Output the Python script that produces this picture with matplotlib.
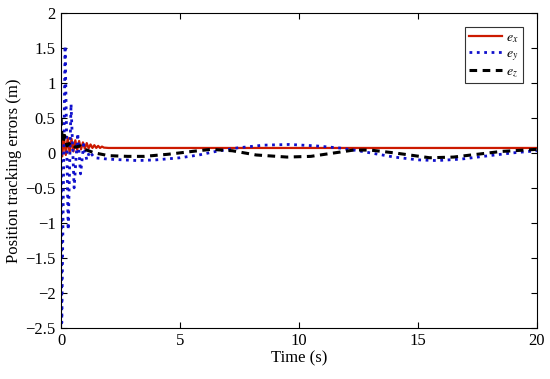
import matplotlib
matplotlib.use("Agg")
import matplotlib.pyplot as plt

plt.rcParams['font.family'] = ['Liberation Serif', 'DejaVu Serif']
plt.rcParams['mathtext.fontset'] = 'stix'

# error e_x (red)
t_x = [0, 0.05, 0.12, 0.2, 0.28, 0.36, 0.44, 0.52, 0.6, 0.68, 0.76, 0.84, 0.92,
       1.0, 1.08, 1.16, 1.24, 1.32, 1.4, 1.48, 1.56, 1.64, 1.72, 1.8, 2.0, 20]
e_x = [0.3, -0.05, 0.25, -0.03, 0.22, 0.0, 0.2, 0.02, 0.18, 0.04, 0.17, 0.05, 0.15,
       0.06, 0.14, 0.065, 0.12, 0.07, 0.11, 0.07, 0.1, 0.07, 0.09, 0.075, 0.07, 0.07]

# error e_y (blue dotted)
t_y = [0, 0.03, 0.17, 0.30, 0.42, 0.55, 0.70, 0.82, 0.95, 1.08, 1.2, 1.4, 2.0, 2.6,
       3.2, 4.0, 5.0, 5.8, 6.5, 7.4, 8.5, 9.6, 10.7, 11.7, 12.5, 13.0, 14.0, 15.0,
       15.8, 16.8, 18.0, 19.0, 20.0]
e_y = [0.0, -2.43, 1.53, -1.1, 0.7, -0.5, 0.28, -0.3, 0.12, -0.1, 0.02, -0.07, -0.09, -0.1,
       -0.11, -0.1, -0.07, -0.03, 0.02, 0.07, 0.11, 0.12, 0.1, 0.07, 0.03, 0.0, -0.06, -0.1,
       -0.11, -0.09, -0.04, 0.0, 0.03]

# error e_z (black dashed)
t_z = [0, 0.03, 0.08, 0.15, 0.25, 0.4, 0.6, 0.8, 1.0, 1.4, 2.0, 2.8, 3.5, 4.5, 5.5, 6.3,
       7.2, 8.2, 9.5, 10.5, 11.5, 12.3, 13.0, 14.0, 15.5, 16.5, 17.5, 18.5, 20]
e_z = [0.5, 0.3, 0.15, 0.25, 0.1, 0.15, 0.08, 0.1, 0.05, 0.0, -0.04, -0.05, -0.05, -0.02, 0.02, 0.05,
       0.03, -0.03, -0.06, -0.05, 0.0, 0.04, 0.04, 0.0, -0.07, -0.06, -0.02, 0.02, 0.05]

fig = plt.figure(figsize=(5.5, 3.79), dpi=100)
ax = fig.add_axes([0.111, 0.135, 0.865, 0.831])

ax.plot(t_x, e_x, color='#cc1a00', lw=1.6, label='$e_x$')
ax.plot(t_y, e_y, color='#1010cc', lw=2.0, ls=':', label='$e_y$')
ax.plot(t_z, e_z, color='black', lw=2.2, ls=(0, (2.5, 1.8)), label='$e_z$')

ax.set_xlim(0, 20)
ax.set_ylim(-2.5, 2)
ax.set_xticks([0, 5, 10, 15, 20])
ax.set_yticks([-2.5, -2, -1.5, -1, -0.5, 0, 0.5, 1, 1.5, 2])
ax.set_yticklabels(['\u22122.5', '\u22122', '\u22121.5', '\u22121', '\u22120.5', '0', '0.5', '1', '1.5', '2'])
ax.tick_params(direction='in', top=True, right=True, labelsize=12, length=4, pad=4)
ax.set_xlabel('Time (s)', fontsize=12, labelpad=1)
ax.set_ylabel('Position tracking errors (m)', fontsize=12, labelpad=2)

leg = ax.legend(loc='upper right', fontsize=10, fancybox=False, edgecolor='#333333',
                framealpha=1, handlelength=2.4, borderaxespad=1.0, labelspacing=0.15,
                handletextpad=0.3, borderpad=0.3)
leg.get_frame().set_linewidth(0.8)

fig.savefig('out.png', dpi=100)
